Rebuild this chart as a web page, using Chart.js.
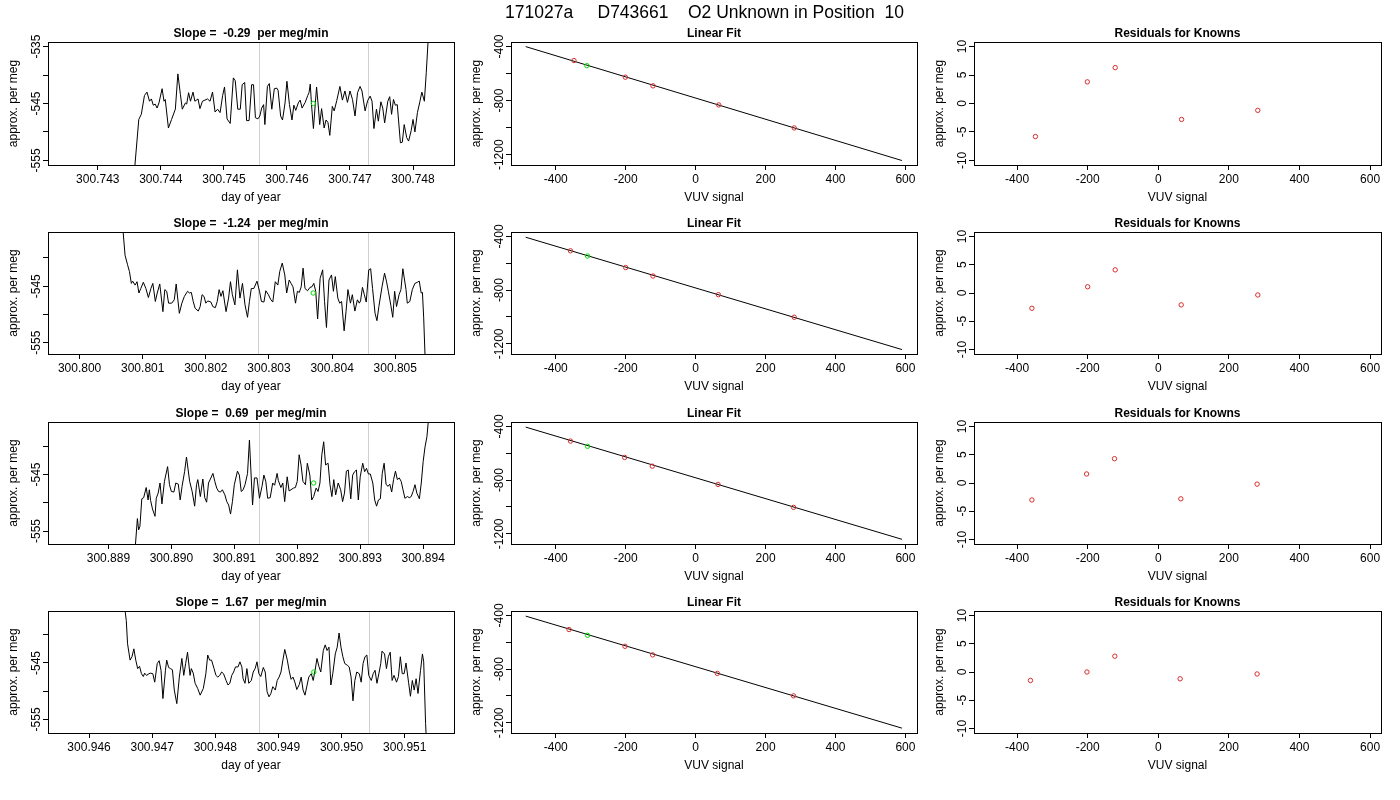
<!DOCTYPE html>
<html><head><meta charset="utf-8">
<script src="https://cdn.jsdelivr.net/npm/chart.js@4.4.1/dist/chart.umd.min.js"></script>
<style>
html,body{margin:0;padding:0;background:#fff;}
#wrap{position:relative;width:1400px;height:800px;overflow:hidden;background:#fff;}
#wrap canvas{position:absolute;left:0;top:0;}
</style></head><body><div id="wrap"></div>
<script>
// ---------------- text ----------------
const mainTitle = "171027a     D743661    O2 Unknown in Position  10";
const slopeTitles = ["Slope =  -0.29  per meg/min", "Slope =  -1.24  per meg/min", "Slope =  0.69  per meg/min", "Slope =  1.67  per meg/min"];
const fitTitle = "Linear Fit";
const resTitle = "Residuals for Knowns";
const timeAxisTitle = "day of year";
const vuvAxisTitle = "VUV signal";
const valueAxisTitle = "approx. per meg";

// ---------------- tick labels ----------------
const timeTicksRow1 = ["300.743","300.744","300.745","300.746","300.747","300.748"];
const timeTicksRow2 = ["300.800","300.801","300.802","300.803","300.804","300.805"];
const timeTicksRow3 = ["300.889","300.890","300.891","300.892","300.893","300.894"];
const timeTicksRow4 = ["300.946","300.947","300.948","300.949","300.950","300.951"];
const seriesYTicks = [-555, -550, -545, -540, -535];
const seriesYLabels = ["-555", "-545", "-535"];
const vuvTicks = ["-400","-200","0","200","400","600"];
const fitYTicks = [-1200, -1000, -800, -600, -400];
const fitYLabels = ["-1200", "-800", "-400"];
const resYTicks = [-10, -5, 0, 5, 10];
const resYLabels = ["-10", "-5", "0", "5", "10"];

// ---------------- axis limits ----------------
const seriesXMin = [300.74221, 300.79950, 300.88804, 300.94535];
const seriesXMax = [300.74865, 300.80593, 300.89449, 300.95178];
const seriesYMin = [-555.8, -557.0, -557.3, -557.4];
const seriesYMax = [-534.2, -535.4, -535.7, -535.8];
const fitXLim = [-528, 633];
const fitYLim = [-1276, -367];
const resXLim = [-522, 631];
const resYLim = [-10.8, 10.8];

// ---------------- time series (day of year, per meg) ----------------
const timeRow1 = [
300.74357,300.74365,300.74369,300.74374,300.74378,300.74382,300.74385,300.74388,300.74391,300.74394,
300.74397,300.74402,300.74405,300.74407,300.74412,300.74417,300.74423,300.74427,300.74431,300.74434,
300.74439,300.74441,300.74444,300.74447,300.74451,300.74454,300.74459,300.74462,300.74466,300.74470,
300.74474,300.74478,300.74482,300.74486,300.74490,300.74494,300.74498,300.74501,300.74505,300.74510,
300.74515,300.74518,300.74522,300.74526,300.74529,300.74533,300.74536,300.74540,300.74544,300.74547,
300.74550,300.74554,300.74557,300.74560,300.74563,300.74565,300.74569,300.74572,300.74576,300.74580,
300.74584,300.74586,300.74590,300.74593,300.74597,300.74600,300.74604,300.74608,300.74611,300.74614,
300.74618,300.74621,300.74624,300.74629,300.74633,300.74635,300.74637,300.74639,300.74642,300.74647,
300.74650,300.74652,300.74655,300.74659,300.74662,300.74665,300.74668,300.74672,300.74675,300.74679,
300.74684,300.74688,300.74692,300.74696,300.74700,300.74704,300.74708,300.74712,300.74716,300.74719,
300.74724,300.74728,300.74732,300.74735,300.74738,300.74742,300.74745,300.74749,300.74752,300.74755,
300.74760,300.74763,300.74766,300.74769,300.74772,300.74775,300.74780,300.74783,300.74786,300.74790,
300.74793,300.74797,300.74800,300.74803,300.74807,300.74811,300.74814,300.74818,300.74821,300.74827];
const valueRow1 = [
-558.3,-547.8,-546.9,-543.6,-543.0,-544.6,-544.2,-545.3,-545.1,-545.8,
-544.9,-542.4,-544.6,-544.3,-549.3,-547.8,-546.0,-539.8,-543.4,-546.0,
-544.9,-545.1,-543.1,-544.6,-543.0,-544.6,-544.2,-545.9,-544.6,-544.4,
-544.2,-544.6,-543.0,-546.5,-546.0,-546.6,-543.6,-542.1,-547.7,-548.5,
-540.5,-541.0,-546.0,-546.0,-541.7,-541.3,-548.0,-548.0,-541.7,-541.7,
-547.5,-547.7,-547.2,-545.8,-545.2,-548.7,-542.0,-541.5,-546.0,-542.4,
-542.3,-542.7,-547.2,-547.9,-544.9,-541.1,-545.2,-547.9,-545.3,-546.2,
-544.9,-544.4,-545.8,-544.8,-543.6,-543.1,-541.6,-545.2,-549.4,-542.1,
-545.8,-548.7,-545.9,-549.3,-547.9,-548.3,-550.6,-545.5,-546.3,-544.5,
-542.0,-544.4,-542.8,-544.8,-542.8,-544.3,-547.2,-543.1,-542.0,-542.8,
-546.3,-544.5,-543.7,-544.6,-549.4,-546.0,-548.1,-544.7,-545.8,-548.4,
-544.6,-543.8,-546.9,-544.3,-545.3,-545.2,-551.9,-551.8,-548.7,-551.0,
-551.6,-549.8,-547.8,-550.0,-546.6,-544.6,-543.0,-544.6,-539.6,-528.0];

const timeRow2 = [
300.80067,300.80069,300.80072,300.80076,300.80079,300.80082,300.80084,300.80088,300.80091,300.80094,
300.80097,300.80101,300.80105,300.80109,300.80113,300.80116,300.80120,300.80123,300.80127,300.80132,
300.80135,300.80138,300.80141,300.80146,300.80150,300.80153,300.80158,300.80162,300.80166,300.80171,
300.80174,300.80177,300.80180,300.80183,300.80188,300.80191,300.80194,300.80197,300.80200,300.80203,
300.80208,300.80211,300.80215,300.80218,300.80221,300.80224,300.80227,300.80232,300.80236,300.80239,
300.80242,300.80246,300.80250,300.80254,300.80258,300.80262,300.80266,300.80269,300.80272,300.80276,
300.80281,300.80285,300.80288,300.80292,300.80295,300.80299,300.80303,300.80306,300.80310,300.80314,
300.80317,300.80321,300.80325,300.80328,300.80332,300.80335,300.80338,300.80342,300.80345,300.80348,
300.80351,300.80354,300.80357,300.80361,300.80365,300.80368,300.80371,300.80374,300.80377,300.80381,
300.80385,300.80388,300.80391,300.80395,300.80399,300.80402,300.80405,300.80409,300.80412,300.80415,
300.80419,300.80422,300.80425,300.80429,300.80432,300.80436,300.80440,300.80443,300.80445,300.80448,
300.80451,300.80454,300.80458,300.80461,300.80464,300.80468,300.80471,300.80474,300.80479,300.80483,
300.80486,300.80489,300.80493,300.80496,300.80499,300.80502,300.80506,300.80509,300.80512,300.80517,
300.80519,300.80523,300.80527,300.80531,300.80535,300.80538,300.80541,300.80543,300.80545,300.80548];
const valueRow2 = [
-531.8,-535.4,-539.5,-541.2,-542.4,-544.5,-544.1,-544.8,-544.2,-546.2,
-545.4,-544.3,-545.4,-547.0,-545.4,-544.5,-547.7,-546.2,-544.6,-549.5,
-545.6,-545.9,-548.0,-548.0,-547.4,-544.6,-549.8,-548.0,-546.8,-545.9,
-546.2,-546.1,-547.7,-548.9,-549.4,-548.6,-546.5,-546.8,-548.0,-547.6,
-547.8,-548.6,-548.8,-547.7,-545.6,-546.8,-545.8,-549.5,-547.1,-544.2,
-546.5,-548.3,-542.1,-547.1,-544.5,-548.3,-550.5,-547.7,-545.4,-545.4,
-544.1,-545.9,-547.7,-547.8,-545.8,-546.5,-547.4,-547.8,-544.2,-544.8,
-542.4,-540.9,-543.0,-546.2,-543.9,-544.5,-545.1,-548.0,-545.9,-546.1,
-545.1,-541.8,-545.4,-545.8,-545.2,-545.1,-544.5,-545.9,-550.8,-543.6,
-542.1,-547.7,-552.3,-543.9,-543.0,-545.9,-543.3,-547.1,-548.0,-547.7,
-552.9,-549.5,-545.6,-548.0,-546.5,-549.4,-547.4,-548.0,-547.6,-545.2,
-546.5,-547.8,-542.1,-541.9,-545.4,-549.8,-551.1,-548.6,-545.1,-542.7,
-544.1,-545.9,-548.4,-550.5,-545.9,-548.6,-546.5,-545.6,-541.9,-545.6,
-548.0,-547.7,-545.6,-544.5,-544.3,-544.1,-546.2,-546.1,-550.6,-560.1];

const timeRow3 = [
300.88941,300.88946,300.88948,300.88950,300.88953,300.88956,300.88960,300.88963,300.88965,300.88967,
300.88970,300.88974,300.88976,300.88979,300.88982,300.88985,300.88989,300.88994,300.88997,300.89000,
300.89004,300.89007,300.89011,300.89014,300.89017,300.89021,300.89024,300.89029,300.89033,300.89037,
300.89040,300.89042,300.89046,300.89050,300.89053,300.89056,300.89059,300.89062,300.89066,300.89069,
300.89072,300.89075,300.89078,300.89081,300.89085,300.89088,300.89091,300.89094,300.89097,300.89100,
300.89105,300.89108,300.89111,300.89114,300.89117,300.89121,300.89124,300.89129,300.89132,300.89136,
300.89140,300.89144,300.89147,300.89150,300.89153,300.89157,300.89161,300.89164,300.89168,300.89170,
300.89174,300.89177,300.89180,300.89184,300.89187,300.89190,300.89194,300.89197,300.89200,300.89203,
300.89206,300.89209,300.89213,300.89216,300.89220,300.89223,300.89226,300.89230,300.89233,300.89236,
300.89239,300.89242,300.89245,300.89249,300.89252,300.89255,300.89258,300.89261,300.89265,300.89269,
300.89272,300.89275,300.89278,300.89281,300.89285,300.89288,300.89291,300.89294,300.89297,300.89300,
300.89304,300.89307,300.89310,300.89313,300.89316,300.89320,300.89323,300.89326,300.89329,300.89332,
300.89335,300.89338,300.89341,300.89344,300.89347,300.89350,300.89353,300.89356,300.89359,300.89362,
300.89365,300.89368,300.89371,300.89375,300.89378,300.89381,300.89384,300.89387,300.89390,300.89394,
300.89397,300.89400,300.89403,300.89406,300.89411];
const valueRow3 = [
-560.3,-552.8,-554.8,-554.2,-549.3,-549.1,-547.3,-549.5,-547.7,-549.6,
-551.1,-552.4,-549.2,-548.3,-546.5,-550.2,-546.2,-543.6,-546.8,-548.0,
-548.1,-546.5,-546.7,-549.5,-547.1,-544.5,-541.9,-546.2,-548.0,-550.6,
-546.8,-545.9,-548.9,-545.8,-549.1,-549.9,-546.5,-545.8,-544.8,-546.2,
-547.4,-548.0,-548.1,-547.7,-548.6,-549.8,-550.4,-552.0,-549.8,-546.8,
-544.4,-545.1,-548.0,-547.7,-546.8,-544.8,-538.9,-550.4,-545.6,-545.6,
-549.2,-547.1,-545.1,-546.2,-549.2,-549.1,-546.5,-546.9,-544.8,-546.1,
-547.3,-546.5,-549.8,-545.4,-547.9,-547.7,-547.4,-547.3,-546.2,-541.5,
-543.3,-546.2,-546.8,-543.0,-545.1,-549.5,-548.9,-547.4,-548.0,-546.5,
-541.5,-539.2,-543.3,-543.0,-546.8,-548.9,-545.9,-548.6,-546.5,-547.7,
-549.8,-548.3,-544.4,-544.2,-549.3,-545.1,-544.5,-544.2,-549.5,-545.4,
-543.0,-544.5,-543.9,-544.9,-544.9,-546.5,-549.5,-550.6,-549.5,-549.3,
-544.8,-543.0,-546.7,-547.1,-546.7,-548.1,-545.9,-544.4,-545.9,-545.6,
-546.2,-547.7,-549.2,-548.9,-549.1,-548.9,-548.0,-546.8,-548.3,-549.3,
-546.5,-542.7,-540.1,-538.3,-532.1];

const timeRow4 = [
300.94656,300.94657,300.94659,300.94661,300.94665,300.94668,300.94671,300.94674,300.94677,300.94680,
300.94683,300.94686,300.94688,300.94691,300.94695,300.94697,300.94701,300.94704,300.94708,300.94711,
300.94714,300.94717,300.94721,300.94723,300.94726,300.94729,300.94732,300.94735,300.94739,300.94743,
300.94747,300.94750,300.94753,300.94756,300.94760,300.94762,300.94765,300.94768,300.94772,300.94776,
300.94781,300.94785,300.94788,300.94791,300.94794,300.94798,300.94801,300.94804,300.94807,300.94810,
300.94813,300.94817,300.94820,300.94823,300.94826,300.94829,300.94832,300.94836,300.94839,300.94842,
300.94844,300.94847,300.94850,300.94853,300.94857,300.94860,300.94863,300.94866,300.94869,300.94872,
300.94876,300.94879,300.94882,300.94885,300.94888,300.94891,300.94895,300.94898,300.94901,300.94904,
300.94907,300.94910,300.94914,300.94917,300.94920,300.94923,300.94926,300.94929,300.94933,300.94936,
300.94939,300.94942,300.94945,300.94948,300.94952,300.94955,300.94958,300.94961,300.94964,300.94967,
300.94971,300.94974,300.94977,300.94980,300.94983,300.94986,300.94990,300.94993,300.94996,300.94999,
300.95002,300.95005,300.95009,300.95012,300.95015,300.95018,300.95021,300.95024,300.95028,300.95031,
300.95034,300.95037,300.95040,300.95043,300.95047,300.95050,300.95053,300.95056,300.95059,300.95062,
300.95064,300.95068,300.95071,300.95074,300.95077,300.95080,300.95083,300.95087,300.95090,300.95093,
300.95096,300.95099,300.95102,300.95106,300.95109,300.95112,300.95115,300.95118,300.95121,300.95125,
300.95128,300.95130,300.95133,300.95135];
const valueRow4 = [
-532.8,-535.7,-537.5,-541.6,-544.5,-543.9,-542.5,-544.5,-546.0,-545.6,
-546.9,-547.4,-546.8,-547.2,-546.9,-546.8,-546.9,-548.4,-545.1,-544.6,
-546.3,-551.3,-546.3,-544.5,-545.8,-546.0,-546.2,-549.8,-552.2,-547.5,
-544.2,-547.2,-545.1,-543.1,-547.2,-546.0,-546.8,-548.6,-549.5,-550.7,
-549.5,-546.9,-543.6,-544.5,-544.5,-546.0,-547.2,-547.5,-547.2,-546.6,
-546.9,-548.1,-548.9,-548.6,-547.2,-546.6,-545.7,-545.7,-544.8,-545.7,
-547.8,-548.6,-546.0,-548.6,-548.1,-546.6,-546.0,-544.8,-546.9,-547.4,
-545.8,-546.6,-550.1,-551.0,-550.4,-549.2,-549.8,-548.1,-547.5,-546.6,
-544.5,-542.6,-544.5,-546.4,-547.9,-547.5,-548.4,-549.7,-548.8,-547.5,
-549.8,-550.7,-549.1,-547.5,-546.9,-548.1,-546.3,-544.2,-545.6,-546.6,
-542.8,-541.8,-542.8,-542.2,-548.9,-546.9,-543.4,-542.2,-539.7,-542.2,
-543.9,-545.1,-545.4,-545.7,-547.5,-551.7,-548.1,-546.6,-546.9,-548.4,
-545.1,-543.9,-543.6,-547.2,-548.1,-546.9,-546.3,-548.6,-546.9,-545.1,
-542.9,-543.4,-546.0,-543.9,-543.1,-548.1,-547.2,-548.4,-547.4,-543.9,
-546.9,-546.9,-545.0,-548.4,-550.9,-548.1,-549.8,-547.8,-550.4,-546.3,
-543.4,-544.8,-555.7,-560.4];

// vertical marker times (gray lines) per row
const cutTimes = [[300.74555, 300.74729], [300.80283, 300.80457], [300.89139, 300.89313], [300.94869, 300.95043]];
// unknown mean (green point) per row
const meanTime = [300.74642, 300.80370, 300.89226, 300.94956];
const meanValue = [-545.0, -546.2, -546.5, -546.6];

// ---------------- linear fit & residuals ----------------
const knownVuvRow1 = [-348, -201, -122, 66, 282];
const knownVuvRow2 = [-358, -200, -122, 65, 282];
const knownVuvRow3 = [-358, -203, -124, 64, 280];
const knownVuvRow4 = [-362, -202, -123, 62, 280];
const knownValRow1 = [-504, -627, -691, -832, -1002];
const knownValRow2 = [-507, -632, -695, -834, -1002];
const knownValRow3 = [-509, -631, -696, -832, -1003];
const knownValRow4 = [-505, -630, -694, -832, -999];
const unknownVuv = [-311, -309, -309, -309];
const unknownVal = [-542, -546, -548, -548];
const fitLineVuv = [-486, 590];
const fitLineValRow1 = [-401, -1243];
const fitLineValRow2 = [-406, -1243];
const fitLineValRow3 = [-405, -1241];
const fitLineValRow4 = [-405, -1240];
const residualRow1 = [-5.8, 3.8, 6.3, -2.8, -1.2];
const residualRow2 = [-2.7, 1.1, 4.1, -2.1, -0.35];
const residualRow3 = [-3.0, 1.6, 4.3, -2.8, -0.2];
const residualRow4 = [-1.5, 0.0, 2.8, -1.2, -0.35];

// ---------------- assembly ----------------
const timeRows = [timeRow1, timeRow2, timeRow3, timeRow4];
const valueRows = [valueRow1, valueRow2, valueRow3, valueRow4];
const timeTickRows = [timeTicksRow1, timeTicksRow2, timeTicksRow3, timeTicksRow4];
const knownVuvRows = [knownVuvRow1, knownVuvRow2, knownVuvRow3, knownVuvRow4];
const knownValRows = [knownValRow1, knownValRow2, knownValRow3, knownValRow4];
const fitLineRows = [fitLineValRow1, fitLineValRow2, fitLineValRow3, fitLineValRow4];
const residualRows = [residualRow1, residualRow2, residualRow3, residualRow4];

// layout (plot boxes in page pixels)
const COL_L = [48, 511, 974], COL_R = [454, 917, 1381];
const ROW_T = [42, 232, 422, 611], ROW_B = [165, 354, 544, 733];
const W = 1400, H = 800;
const FONT = '"Liberation Sans", Arial, Helvetica, sans-serif';
const RED = 'rgb(215,45,45)', GREEN = '#00dd00';

const wrap = document.getElementById('wrap');

function scaleCfg(isX, min, max, tickVals) {
  return {
    type: 'linear', min: min, max: max,
    grid: { display: true, drawOnChartArea: false, drawTicks: true, tickLength: 5, color: '#000', lineWidth: 1 },
    border: { display: false },
    ticks: { display: false },
    title: { display: false },
    afterBuildTicks: s => { s.ticks = tickVals.filter(v => v >= s.min - 1e-9 && v <= s.max + 1e-9).map(v => ({ value: v })); },
    afterFit: s => { if (isX) s.height = 0; else s.width = 0; }
  };
}

function decoPlugin(d) {
  return {
    id: 'deco',
    beforeDatasetsDraw(chart) {
      if (!d.vlines) return;
      const { ctx, chartArea: a, scales: { x } } = chart;
      ctx.save();
      ctx.strokeStyle = '#d0d0d0'; ctx.lineWidth = 1;
      d.vlines.forEach(t => {
        const px = Math.round(x.getPixelForValue(t)) + 0.5;
        ctx.beginPath(); ctx.moveTo(px, a.top); ctx.lineTo(px, a.bottom); ctx.stroke();
      });
      ctx.restore();
    },
    afterDraw(chart) {
      const { ctx, chartArea: a, scales: { x, y } } = chart;
      ctx.save();
      ctx.strokeStyle = '#000'; ctx.lineWidth = 1;
      ctx.strokeRect(a.left + 0.5, a.top + 0.5, a.right - a.left, a.bottom - a.top);
      ctx.fillStyle = '#000';
      ctx.textAlign = 'center'; ctx.textBaseline = 'alphabetic';
      const cx = (a.left + a.right) / 2, cy = (a.top + a.bottom) / 2;
      ctx.font = 'bold 12px ' + FONT;
      ctx.fillText(d.title, cx, a.top - 5);
      ctx.font = '12px ' + FONT;
      d.xLabels.forEach(s => {
        const v = parseFloat(s);
        if (v < x.min || v > x.max) return;
        ctx.fillText(s, x.getPixelForValue(v), a.bottom + 18);
      });
      ctx.fillText(d.xTitle, cx, a.bottom + 36);
      d.yLabels.forEach(s => {
        const v = parseFloat(s);
        if (v < y.min || v > y.max) return;
        ctx.save(); ctx.translate(a.left - 8, y.getPixelForValue(v)); ctx.rotate(-Math.PI / 2);
        ctx.fillText(s, 0, 0); ctx.restore();
      });
      ctx.save(); ctx.translate(a.left - 31, cy); ctx.rotate(-Math.PI / 2);
      ctx.fillText(d.yTitle, 0, 0); ctx.restore();
      if (d.main) {
        ctx.font = '17.5px ' + FONT;
        ctx.fillText(d.main, 704.5, 18);
      }
      ctx.restore();
    }
  };
}

function makeChart(r, c, datasets, xs, ys, deco) {
  const cv = document.createElement('canvas');
  cv.width = W; cv.height = H;
  cv.style.width = W + 'px'; cv.style.height = H + 'px';
  wrap.appendChild(cv);
  return new Chart(cv.getContext('2d'), {
    type: 'scatter',
    data: { datasets: datasets },
    options: {
      responsive: false, animation: false, events: [], devicePixelRatio: 1,
      layout: { padding: { left: COL_L[c], right: W - COL_R[c], top: ROW_T[r], bottom: H - ROW_B[r] } },
      plugins: { legend: { display: false }, tooltip: { enabled: false }, title: { display: false } },
      scales: { x: xs, y: ys }
    },
    plugins: [decoPlugin(deco)]
  });
}

function circles(xsArr, ysArr, color, order) {
  return {
    data: xsArr.map((v, i) => ({ x: v, y: ysArr[i] })),
    showLine: false, pointStyle: 'circle', pointRadius: 2.2, pointBorderWidth: 1,
    pointBorderColor: color, pointBackgroundColor: 'rgba(0,0,0,0)', borderColor: color,
    backgroundColor: 'rgba(0,0,0,0)', order: order
  };
}

for (let r = 0; r < 4; r++) {
  // time series panel
  makeChart(r, 0, [
    circles([meanTime[r]], [meanValue[r]], GREEN, 0),
    { data: timeRows[r].map((t, i) => ({ x: t, y: valueRows[r][i] })), showLine: true,
      borderColor: '#000', borderWidth: 1, pointRadius: 0, tension: 0, order: 1 }
  ],
  scaleCfg(true, seriesXMin[r], seriesXMax[r], timeTickRows[r].map(parseFloat)),
  scaleCfg(false, seriesYMin[r], seriesYMax[r], seriesYTicks),
  { title: slopeTitles[r], xLabels: timeTickRows[r], yLabels: seriesYLabels,
    xTitle: timeAxisTitle, yTitle: valueAxisTitle, vlines: cutTimes[r], main: r === 0 ? mainTitle : null });

  // linear fit panel
  makeChart(r, 1, [
    circles([unknownVuv[r]], [unknownVal[r]], GREEN, 0),
    circles(knownVuvRows[r], knownValRows[r], RED, 1),
    { data: fitLineVuv.map((v, i) => ({ x: v, y: fitLineRows[r][i] })), showLine: true,
      borderColor: '#000', borderWidth: 1, pointRadius: 0, tension: 0, order: 2 }
  ],
  scaleCfg(true, fitXLim[0], fitXLim[1], vuvTicks.map(parseFloat)),
  scaleCfg(false, fitYLim[0], fitYLim[1], fitYTicks),
  { title: fitTitle, xLabels: vuvTicks, yLabels: fitYLabels, xTitle: vuvAxisTitle, yTitle: valueAxisTitle });

  // residual panel
  makeChart(r, 2, [
    circles(knownVuvRows[r], residualRows[r], RED, 0)
  ],
  scaleCfg(true, resXLim[0], resXLim[1], vuvTicks.map(parseFloat)),
  scaleCfg(false, resYLim[0], resYLim[1], resYTicks),
  { title: resTitle, xLabels: vuvTicks, yLabels: resYLabels, xTitle: vuvAxisTitle, yTitle: valueAxisTitle });
}
</script>
</body></html>
